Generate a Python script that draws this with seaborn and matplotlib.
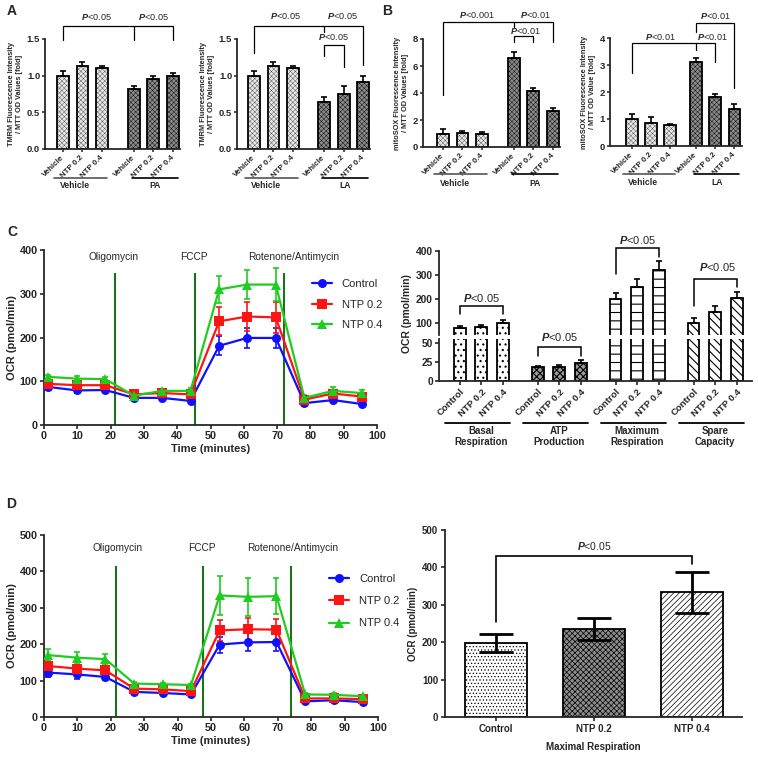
import numpy as np
import pandas as pd
import matplotlib
matplotlib.use("Agg")
import matplotlib.pyplot as plt
from matplotlib.lines import Line2D
import seaborn as sns

sns.set_style("ticks")
plt.rcParams["font.family"] = ["Liberation Sans", "DejaVu Sans"]
plt.rcParams["font.weight"] = "bold"
plt.rcParams["axes.labelweight"] = "bold"
plt.rcParams["mathtext.fontset"] = "custom"
plt.rcParams["mathtext.it"] = "Liberation Sans:italic"
plt.rcParams["mathtext.rm"] = "Liberation Sans"
plt.rcParams["hatch.linewidth"] = 0.4
plt.rcParams["axes.linewidth"] = 1.3

# ---- data: panel A / B (fold values, mean and SEM) ----
bar_labels = ["Vehicle", "NTP 0.2", "NTP 0.4"]
tmrm_pa_mean = [1.00, 1.13, 1.10, 0.82, 0.96, 1.00]
tmrm_pa_err = [0.06, 0.06, 0.03, 0.04, 0.04, 0.04]
tmrm_la_mean = [1.00, 1.13, 1.10, 0.64, 0.75, 0.91]
tmrm_la_err = [0.06, 0.05, 0.03, 0.07, 0.11, 0.08]
sox_pa_mean = [1.00, 1.05, 0.98, 6.60, 4.15, 2.65]
sox_pa_err = [0.30, 0.15, 0.12, 0.45, 0.20, 0.22]
sox_la_mean = [1.00, 0.87, 0.77, 3.10, 1.80, 1.38]
sox_la_err = [0.18, 0.20, 0.06, 0.15, 0.12, 0.17]

# ---- data: seahorse time courses ----
treat_labels = ["Control", "NTP 0.2", "NTP 0.4"]
time_min = [1.3, 9.9, 18.4, 27.0, 35.5, 44.0, 52.6, 61.0, 69.6, 78.2, 86.8, 95.4]
c_control = [87, 79, 80, 62, 62, 55, 181, 199, 199, 50, 57, 48]
c_control_err = [6, 5, 5, 5, 5, 4, 22, 22, 22, 6, 5, 4]
c_ntp02 = [94, 91, 91, 70, 73, 70, 237, 248, 246, 58, 72, 65]
c_ntp02_err = [6, 6, 6, 6, 5, 5, 32, 34, 36, 5, 6, 6]
c_ntp04 = [110, 106, 105, 67, 78, 78, 310, 321, 321, 62, 78, 73]
c_ntp04_err = [5, 5, 5, 12, 5, 6, 30, 33, 38, 6, 10, 8]
c_inject = [21.3, 45.3, 72.2]

d_control = [122, 117, 110, 69, 66, 62, 199, 205, 206, 43, 46, 41]
d_control_err = [12, 12, 8, 6, 5, 5, 22, 25, 25, 5, 5, 5]
d_ntp02 = [140, 133, 128, 78, 76, 71, 238, 241, 240, 51, 51, 49]
d_ntp02_err = [10, 10, 10, 6, 5, 5, 28, 30, 30, 5, 5, 5]
d_ntp04 = [170, 163, 159, 92, 90, 88, 334, 330, 332, 62, 61, 57]
d_ntp04_err = [16, 15, 15, 5, 4, 4, 53, 52, 50, 4, 4, 4]
d_inject = [21.7, 47.5, 74.0]
inject_names = ["Oligomycin", "FCCP", "Rotenone/Antimycin"]

# ---- data: respiration parameters ----
param_groups = ["Basal\nRespiration", "ATP\nProduction", "Maximum\nRespiration", "Spare\nCapacity"]
param_mean = [[78, 83, 100], [18, 18, 24], [198, 248, 320], [100, 146, 203]]
param_err = [[8, 10, 12], [2, 3, 3], [27, 36, 38], [22, 25, 26]]
maxresp_mean = [198, 236, 333]
maxresp_err = [24, 29, 54]

line_colors = {"Control": "#1010ff", "NTP 0.2": "#ff1414", "NTP 0.4": "#1fcc1f"}
line_markers = {"Control": "o", "NTP 0.2": "s", "NTP 0.4": "^"}
inject_color = "#1f6f1f"

W, H = 758, 761
fig = plt.figure(figsize=(W / 100, H / 100), dpi=100)


def add_ax(x0, y0, x1, y1):
    return fig.add_axes([x0 / W, 1 - y1 / H, (x1 - x0) / W, (y1 - y0) / H])


def draw_bars(ax, xs, ys, face, hatch, width, hatch_lw=0.4):
    n0 = len(ax.patches)
    sns.barplot(x=xs, y=ys, native_scale=True, width=width, color=face, saturation=1,
                edgecolor="black", linewidth=1.3, errorbar=None, ax=ax)
    for p in ax.patches[n0:]:
        p.set_facecolor(face)
        p.set_hatch(hatch)
        if hasattr(p, "set_hatch_linewidth"):
            p.set_hatch_linewidth(hatch_lw)


def upper_err(ax, xs, ys, es, cap, lw=1.2):
    ax.errorbar(xs, ys, yerr=[np.zeros(len(es)), es], fmt="none", ecolor="black",
                elinewidth=lw, capsize=cap, capthick=lw, zorder=3)


def bracket(ax, xs, ys, lw=0.9):
    ax.plot(xs, ys, color="black", lw=lw, clip_on=False, solid_joinstyle="miter")


def ptext(ax, x, y, s, size):
    ax.text(x, y, "$P$<" + s, ha="center", va="center", fontsize=size,
            fontweight="normal", clip_on=False)


def fold_panel(ax, pos, means, errs, group2, ylim, yticks, yticklabels, ylabel, xlim,
               lines, texts, line_y, lab_y):
    draw_bars(ax, pos[:3], means[:3], "#e6e6e6", "xxxxxxx", 0.6, 0.2)
    draw_bars(ax, pos[3:], means[3:], "#8a8a8a", "xxxxxxx", 0.6, 0.3)
    upper_err(ax, pos, means, errs, 2.5)
    ax.set_xlim(*xlim)
    ax.set_ylim(*ylim)
    ax.set_yticks(yticks, yticklabels)
    ax.set_xticks(pos, bar_labels * 2, rotation=45, ha="right", va="center",
                  rotation_mode="anchor")
    ax.tick_params(axis="y", labelsize=6.8, width=1.1, length=2.5, pad=1)
    ax.tick_params(axis="x", labelsize=5.7, width=1.1, length=2.5, pad=3)
    ax.set_ylabel(ylabel, fontsize=5.3, labelpad=3, linespacing=1.1)
    ax.set_xlabel("")
    sns.despine(ax=ax)
    tr = ax.get_xaxis_transform()
    ax.plot([pos[0] - 0.45, pos[2] + 0.25], [line_y, line_y], color="#555555", lw=1.2,
            transform=tr, clip_on=False)
    ax.plot([pos[3] - 0.1, pos[5] + 0.25], [line_y, line_y], color="black", lw=1.2,
            transform=tr, clip_on=False)
    ax.text(pos[1] - 0.4, lab_y, "Vehicle", transform=tr, ha="center", va="center", fontsize=6.2)
    ax.text(pos[4] + 0.1, lab_y, group2, transform=tr, ha="center", va="center", fontsize=6.2)
    for xs, ys in lines:
        bracket(ax, xs, ys)
    for x, y, s in texts:
        ptext(ax, x, y, s, 6.6)


def time_panel(ax, series, errs, inject, ymax, yticks, vtop, lab_y, lab_x, leg_anchor, leg_space):
    df = pd.DataFrame({
        "time": time_min * 3,
        "ocr": series[0] + series[1] + series[2],
        "group": np.repeat(treat_labels, len(time_min)),
    })
    ax.vlines(inject, 0, vtop, color=inject_color, lw=1.5, zorder=1)
    for g, e, name in zip(series, errs, treat_labels):
        ax.errorbar(time_min, g, yerr=e, fmt="none", ecolor=line_colors[name], elinewidth=1.2,
                    capsize=2.5, capthick=1.2, zorder=2)
    sns.lineplot(data=df, x="time", y="ocr", hue="group", style="group", hue_order=treat_labels,
                 style_order=treat_labels, palette=line_colors, markers=line_markers, dashes=False,
                 linewidth=1.6, markersize=6.5, markeredgewidth=0, errorbar=None, legend=False,
                 ax=ax, zorder=3)
    for x, s in zip(lab_x, inject_names):
        ax.text(x, lab_y, s, ha="center", va="center", fontsize=7.3, fontweight="normal")
    ax.set_xlim(0, 100)
    ax.set_ylim(0, ymax)
    ax.set_xticks(range(0, 101, 10))
    ax.set_yticks(yticks)
    ax.tick_params(labelsize=7.8, width=1.2, length=3, pad=1.5)
    ax.set_xlabel("Time (minutes)", fontsize=8, labelpad=2)
    ax.set_ylabel("OCR (pmol/min)", fontsize=8, labelpad=2)
    sns.despine(ax=ax)
    handles = [Line2D([], [], color=line_colors[n], marker=line_markers[n], markersize=6.5,
                      markeredgewidth=0, lw=1.6) for n in treat_labels]
    leg = ax.legend(handles, treat_labels, frameon=False, loc="upper left",
                    bbox_to_anchor=leg_anchor, fontsize=8, labelspacing=leg_space,
                    handlelength=1.8, handletextpad=0.9, borderaxespad=0)
    for t in leg.get_texts():
        t.set_fontweight("normal")


# ---------------- panel A ----------------
pos_a = [0, 1, 2, 3.6, 4.6, 5.6]
tmrm_ylabel = "TMRM Fluorescence Intensity\n/ MTT OD Values [fold]"
axA1 = add_ax(45, 39, 180, 149)
fold_panel(axA1, pos_a, tmrm_pa_mean, tmrm_pa_err, "PA", (0, 1.5), [0, 0.5, 1.0, 1.5],
           ["0.0", "0.5", "1.0", "1.5"], tmrm_ylabel, (-0.9, 5.95),
           [([0, 0, 3.6, 3.6], [1.49, 1.68, 1.68, 1.49]),
            ([3.6, 5.6, 5.6], [1.68, 1.68, 1.49])],
           [(1.7, 1.80, "0.05"), (4.6, 1.80, "0.05")], -0.265, -0.335)

axA2 = add_ax(237, 39, 370, 149)
fold_panel(axA2, pos_a, tmrm_la_mean, tmrm_la_err, "LA", (0, 1.5), [0, 0.5, 1.0, 1.5],
           ["0.0", "0.5", "1.0", "1.5"], tmrm_ylabel, (-0.87, 5.95),
           [([0, 0, 3.6, 3.6], [1.31, 1.68, 1.68, 1.60]),
            ([3.6, 5.6, 5.6], [1.68, 1.68, 1.14]),
            ([3.6, 3.6, 4.6, 4.6], [1.27, 1.42, 1.42, 1.12])],
           [(1.6, 1.82, "0.05"), (4.55, 1.82, "0.05"), (4.05, 1.53, "0.05")], -0.26, -0.33)

# ---------------- panel B ----------------
sox_ylabel_pa = "mitoSOX Fluorescence Intensity\n/ MTT OD Values [fold]"
sox_ylabel_la = "mitoSOX Fluorescence Intensity\n/ MTT OD Value [fold]"
axB1 = add_ax(423, 39, 560, 147)
fold_panel(axB1, pos_a, sox_pa_mean, sox_pa_err, "PA", (0, 8), [0, 2, 4, 6, 8],
           ["0", "2", "4", "6", "8"], sox_ylabel_pa, (-1.0, 5.95),
           [([0, 0, 3.6, 3.6], [3.85, 9.28, 9.28, 8.9]),
            ([3.6, 5.6, 5.6], [9.28, 9.28, 7.8]),
            ([3.6, 3.6, 4.6, 4.6], [7.8, 8.22, 8.22, 7.8])],
           [(1.75, 9.78, "0.001"), (4.7, 9.78, "0.01"), (4.2, 8.6, "0.01")], -0.25, -0.335)

pos_b2 = [0, 1, 2, 3.35, 4.35, 5.35]
axB2 = add_ax(610, 38, 742, 146)
fold_panel(axB2, pos_b2, sox_la_mean, sox_la_err, "LA", (0, 4), [0, 1, 2, 3, 4],
           ["0", "1", "2", "3", "4"], sox_ylabel_la, (-1.14, 5.75),
           [([0, 0, 3.35, 3.35], [2.72, 3.83, 3.83, 3.56]),
            ([3.35, 4.35, 4.35], [3.83, 3.83, 3.12]),
            ([3.35, 3.35, 5.35, 5.35], [4.23, 4.54, 4.54, 2.15])],
           [(1.5, 4.05, "0.01"), (4.2, 4.05, "0.01"), (4.35, 4.81, "0.01")], -0.255, -0.34)

# ---------------- panel C ----------------
axC1 = add_ax(44, 250, 377, 425)
time_panel(axC1, [c_control, c_ntp02, c_ntp04], [c_control_err, c_ntp02_err, c_ntp04_err],
           c_inject, 400, [0, 100, 200, 300, 400], 347, 384, [20.8, 45.0, 75.0],
           (0.79, 0.86), 0.95)

axC_hi = add_ax(439, 251, 752, 335)
axC_lo = add_ax(439, 339, 752, 381)
param_face = ["#ffffff", "#9a9a9a", "#ffffff", "#ffffff"]
param_hatch = ["...", "xxxxx", "--", "\\\\\\\\"]
tick_pos = []
for g in range(4):
    xs = [g * 3.6 + k for k in range(3)]
    tick_pos += xs
    for ax in (axC_hi, axC_lo):
        draw_bars(ax, xs, param_mean[g], param_face[g], param_hatch[g], 0.55, 0.8)
        upper_err(ax, xs, param_mean[g], param_err[g], 2.5)
for ax in (axC_hi, axC_lo):
    ax.set_xlim(-0.95, 13.5)
    ax.tick_params(labelsize=7.4, width=1.2, length=3, pad=1.5)
    ax.set_xlabel("")
    ax.set_ylabel("")
axC_hi.set_ylim(50, 400)
axC_hi.set_yticks([100, 200, 300, 400])
axC_hi.set_xticks([])
sns.despine(ax=axC_hi, bottom=True)
axC_lo.set_ylim(0, 55)
axC_lo.set_yticks([0, 25, 50])
axC_lo.set_xticks(tick_pos, treat_labels * 4, rotation=45, ha="right", rotation_mode="anchor")
axC_lo.tick_params(axis="x", labelsize=6.8)
sns.despine(ax=axC_lo)
tr = axC_lo.get_xaxis_transform()
for g, name in enumerate(param_groups):
    x0 = g * 3.6
    axC_lo.plot([x0 - 0.67, x0 + 2.33], [-1.0, -1.0], color="black", lw=1.3, transform=tr,
                clip_on=False)
    axC_lo.text(x0 + 1.0, -1.08, name, transform=tr, ha="center", va="top", fontsize=7,
                linespacing=1.05)
bracket(axC_hi, [0, 0, 2, 2], [137, 171, 171, 137], 1.1)
ptext(axC_hi, 1.0, 205, "0.05", 8)
bracket(axC_lo, [3.6, 3.6, 5.6, 5.6], [33, 44.7, 44.7, 33], 1.1)
ptext(axC_lo, 4.6, 58, "0.05", 8)
bracket(axC_hi, [7.2, 7.2, 9.2, 9.2], [306, 411, 411, 376], 1.1)
ptext(axC_hi, 8.2, 446, "0.05", 8)
bracket(axC_hi, [10.8, 10.8, 12.8, 12.8], [171, 283, 283, 250], 1.1)
ptext(axC_hi, 11.9, 333, "0.05", 8)
fig.text(407 / W, 1 - 314 / H, "OCR (pmol/min)", rotation=90, ha="center", va="center",
         fontsize=7.5)

# ---------------- panel D ----------------
axD1 = add_ax(44, 535, 378, 717)
time_panel(axD1, [d_control, d_ntp02, d_ntp04], [d_control_err, d_ntp02_err, d_ntp04_err],
           d_inject, 500, [0, 100, 200, 300, 400, 500], 415, 464, [22.0, 47.4, 74.5],
           (0.84, 0.81), 1.1)

axD2 = add_ax(445, 530, 742, 717)
d_face = ["#ffffff", "#8c8c8c", "#ffffff"]
d_hatch = [".....", "xxxxxx", "//////"]
for i in range(3):
    draw_bars(axD2, [i], [maxresp_mean[i]], d_face[i], d_hatch[i], 0.64, 0.5)
axD2.errorbar(range(3), maxresp_mean, yerr=maxresp_err, fmt="none", ecolor="black",
              elinewidth=2, capsize=12, capthick=2, zorder=3)
axD2.set_xlim(-0.52, 2.51)
axD2.set_ylim(0, 500)
axD2.set_yticks([0, 100, 200, 300, 400, 500])
axD2.set_xticks([0, 1, 2], treat_labels)
axD2.tick_params(labelsize=7, width=1.2, length=3, pad=2)
axD2.set_xlabel("Maximal Respiration", fontsize=7, labelpad=6)
axD2.set_ylabel("OCR (pmol/min)", fontsize=7, labelpad=3)
sns.despine(ax=axD2)
bracket(axD2, [0, 0, 2, 2], [255, 430, 430, 409], 1.2)
ptext(axD2, 1.0, 458, "0.05", 7.5)

# panel letters
for x, y, s in [(12, 11, "A"), (387, 11, "B"), (12, 232, "C"), (11, 504, "D")]:
    fig.text(x / W, 1 - y / H, s, ha="center", va="center", fontsize=10)

fig.savefig("out.png", dpi=100)
